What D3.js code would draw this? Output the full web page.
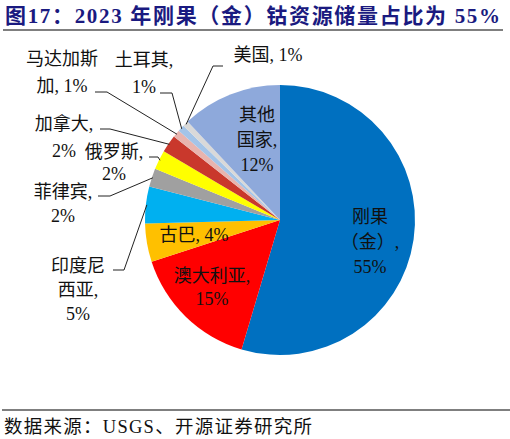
<!DOCTYPE html>
<html>
<head>
<meta charset="utf-8">
<script src="https://cdn.jsdelivr.net/npm/d3@7"></script>
<style>
  body { margin: 0; background: #fff; }
  svg { display: block; }
  text { font-family: "Liberation Serif", "Noto Sans CJK SC", serif; }
</style>
</head>
<body>
<svg></svg>
<script>
// chart data (share of 2023 cobalt reserves, %)
let countries = ["刚果（金）", "澳大利亚", "古巴", "印度尼西亚", "菲律宾", "俄罗斯", "加拿大", "马达加斯加", "土耳其", "美国", "其他国家"];
let shares = [54.6, 15.4, 4.6, 4.4, 2.2, 2.3, 2.1, 0.9, 0.8, 0.7, 12.0];
let shownPct = ["55%", "15%", "4%", "5%", "2%", "2%", "2%", "1%", "1%", "1%", "12%"];

let palette = ["#0070C0", "#FF0000", "#FFC000", "#00B0F0", "#A0A0A0", "#FFFF00",
               "#C9382C", "#E8B4AE", "#A3C4E8", "#D9D9D9", "#8EA9DB"];

let w = 510;
let h = 439;
let cx = 280, cy = 220, r = 135;

// label placement: lines ({p} = percent), anchor, first baseline, leader elbow + end
let labelLayout = [
    { lines: ["刚果", "（金）,", "{p}"], x: 370, y: 223, dy: 25 },
    { lines: ["澳大利亚,", "{p}"], x: 212, y: 282, dy: 23 },
    { lines: ["古巴, {p}"], x: 194, y: 241, dy: 23 },
    { lines: ["印度尼", "西亚,", "{p}"], x: 78, y: 272, dy: 24, leader: [[124, 270], [113, 270]] },
    { lines: ["菲律宾,", "{p}"], x: 63, y: 198, dy: 24, leader: [[110, 196], [98, 196]] },
    { lines: ["俄罗斯,", "{p}"], x: 114, y: 158, dy: 22, leader: [[158, 157], [149, 157]] },
    { lines: ["加拿大,", "{p}"], x: 64, y: 130, dy: 27, leader: [[110, 129], [100, 129]] },
    { lines: ["马达加斯", "加, {p}"], x: 62, y: 65, dy: 27, leader: [[107, 92], [95, 92]] },
    { lines: ["土耳其,", "{p}"], x: 144, y: 66, dy: 27, leader: [[172, 93], [160, 93]] },
    { lines: ["美国, {p}"], x: 268, y: 61, dy: 24, leader: [[213, 66], [223, 66]] },
    { lines: ["其他", "国家,", "{p}"], x: 257, y: 121, dy: 25 }
];

let svg = d3.select("svg")
    .attr("width", w)
    .attr("height", h);

let color = d3.scaleOrdinal(countries, palette);

let pie = d3.pie().sort(null).value(d => d);
let arcs = pie(shares);
let arc = d3.arc().innerRadius(0).outerRadius(r);

// title + rules
svg.append("text")
    .attr("x", 5)
    .attr("y", 23)
    .attr("font-size", 21)
    .attr("font-weight", "bold")
    .attr("fill", "#1a1a80")
    .attr("textLength", 495)
    .attr("lengthAdjust", "spacing")
    .text("图17：2023 年刚果（金）钴资源储量占比为 55%");

svg.append("line")
    .attr("x1", 3).attr("x2", 503)
    .attr("y1", 30).attr("y2", 30)
    .attr("stroke", "#555").attr("stroke-width", 1.5);

svg.append("line")
    .attr("x1", 2).attr("x2", 510)
    .attr("y1", 410).attr("y2", 410)
    .attr("stroke", "#555").attr("stroke-width", 1.5);

svg.append("text")
    .attr("x", 4)
    .attr("y", 433)
    .attr("font-size", 18.5)
    .attr("fill", "#111")
    .attr("textLength", 308)
    .attr("lengthAdjust", "spacing")
    .text("数据来源：USGS、开源证券研究所");

// slices
let g = svg.append("g")
    .attr("transform", "translate(" + cx + "," + cy + ")");

g.selectAll("path")
    .data(arcs)
    .enter()
    .append("path")
    .attr("d", arc)
    .attr("fill", (d, i) => color(countries[i]));

// leader lines from the slice middle to the label elbow
let edgePoint = d => {
    let a = (d.startAngle + d.endAngle) / 2;
    return [cx + (r - 1) * Math.sin(a), cy - (r - 1) * Math.cos(a)];
};

arcs.forEach((d, i) => {
    let lay = labelLayout[i];
    if (!lay.leader) return;
    let pts = [edgePoint(d)].concat(lay.leader);
    svg.append("path")
        .attr("d", d3.line()(pts))
        .attr("fill", "none")
        .attr("stroke", "#222")
        .attr("stroke-width", 1);
});

// labels
labelLayout.forEach((lay, i) => {
    let t = svg.append("text")
        .attr("text-anchor", "middle")
        .attr("font-size", 18)
        .attr("fill", "#111");
    lay.lines.forEach((ln, k) => {
        t.append("tspan")
            .attr("x", lay.x)
            .attr("y", lay.y + k * lay.dy)
            .text(ln.replace("{p}", shownPct[i]));
    });
});
</script>
</body>
</html>
